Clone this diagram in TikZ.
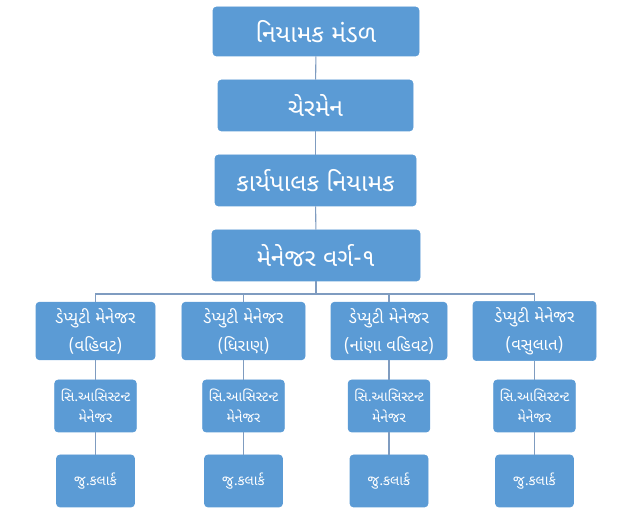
\documentclass[tikz,border=0pt]{standalone}
\usepackage{fontspec}
\newfontfamily\gujfont[Script=Gujarati]{Noto Sans Gujarati UI}
\definecolor{boxblue}{HTML}{5B9BD5}
\definecolor{linegray}{HTML}{7F9CC0}
\begin{document}
\begin{tikzpicture}[
            box/.style={rectangle, draw=boxblue, fill=boxblue, rounded corners=2pt, text=white, text centered, align=center, minimum height=1.02cm, font=\gujfont\fontsize{14}{16}\selectfont},
            subbox/.style={box, minimum height=1.04cm, font=\gujfont\fontsize{9.5}{16}\selectfont},
            smallbox/.style={box, minimum width=1.56cm, minimum height=1.04cm, font=\gujfont\fontsize{8}{12}\selectfont},
            line/.style={draw=linegray, line width=0.6pt}
        ]
            \useasboundingbox (0,0) rectangle (12.66,10.42);
            \node[box, minimum width=4.12cm, minimum height=0.98cm] (board) at (6.32,9.79) {નિયામક મંડળ};
            \node[box, minimum width=3.9cm] (chairman) at (6.31,8.31) {ચેરમેન};
            \node[box, minimum width=4.02cm] (director) at (6.31,6.81) {કાર્યપાલક નિયામક};
            \node[box, minimum width=4.16cm] (manager) at (6.32,5.31) {મેનેજર વર્ગ-૧};
            \coordinate (bar) at (6.32,4.54);

            \node[subbox, minimum width=2.38cm] (dep1) at (1.91,3.8) {ડેપ્યુટી મેનેજર\\(વહિવટ)};
            \node[subbox, minimum width=2.46cm] (dep2) at (4.87,3.8) {ડેપ્યુટી મેનેજર\\(ધિરાણ)};
            \node[subbox, minimum width=2.32cm] (dep3) at (7.78,3.8) {ડેપ્યુટી મેનેજર\\(નાંણા વહિવટ)};
            \node[subbox, minimum width=2.46cm] (dep4) at (10.69,3.8) {ડેપ્યુટી મેનેજર\\(વસુલાત)};

            \node[smallbox] (asst1) at (1.91,2.3) {સિ.આસિસ્ટન્ટ\\મેનેજર};
            \node[smallbox] (asst2) at (4.87,2.3) {સિ.આસિસ્ટન્ટ\\મેનેજર};
            \node[smallbox] (asst3) at (7.78,2.3) {સિ.આસિસ્ટન્ટ\\મેનેજર};
            \node[smallbox] (asst4) at (10.69,2.3) {સિ.આસિસ્ટન્ટ\\મેનેજર};

            \node[smallbox] (clerk1) at (1.91,0.8) {જુ.કલાર્ક};
            \node[smallbox] (clerk2) at (4.87,0.8) {જુ.કલાર્ક};
            \node[smallbox] (clerk3) at (7.78,0.8) {જુ.કલાર્ક};
            \node[smallbox] (clerk4) at (10.69,0.8) {જુ.કલાર્ક};

            \draw[line] (board) -- (chairman);
            \draw[line] (chairman) -- (director);
            \draw[line] (director) -- (manager);
            \draw[line] (manager) -- (bar);
            \draw[line] (bar) -| (dep1);
            \draw[line] (bar) -| (dep2);
            \draw[line] (bar) -| (dep3);
            \draw[line] (bar) -| (dep4);
            \draw[line] (dep1) -- (asst1);
            \draw[line] (dep2) -- (asst2);
            \draw[line] (dep3) -- (asst3);
            \draw[line] (dep4) -- (asst4);
            \draw[line] (asst1) -- (clerk1);
            \draw[line] (asst2) -- (clerk2);
            \draw[line] (asst3) -- (clerk3);
            \draw[line] (asst4) -- (clerk4);
        \end{tikzpicture}
\end{document}
